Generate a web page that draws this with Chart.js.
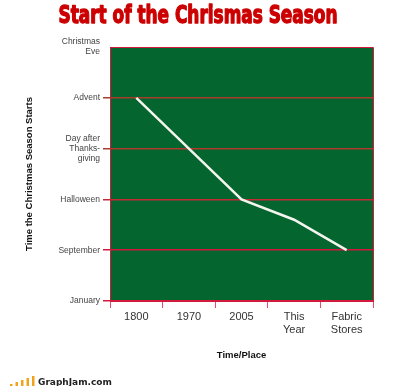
<!DOCTYPE html>
<html>
<head>
<meta charset="utf-8">
<script src="https://cdn.jsdelivr.net/npm/chart.js@4/dist/chart.umd.min.js"></script>
<style>
  html, body { margin: 0; padding: 0; background: #fff; }
  #wrap { width: 400px; height: 386px; }
</style>
</head>
<body>
<div id="wrap"><canvas id="myChart" width="400" height="386"></canvas></div>
<script>
// Dados do gráfico
const categories = ['1800', '1970', '2005', ['This', 'Year'], ['Fabric', 'Stores']];
const seasonStart = [4, 3, 2, 1.6, 1];
const yTickLabels = ['January', 'September', 'Halloween', ['Day after', 'Thanks-', 'giving'], 'Advent', ['Christmas', 'Eve']];

const chartTitle = 'Start of the Chrismas Season';
const yTitle = 'Time the Christmas Season Starts';
const xTitle = 'Time/Place';

// cores
const green = '#04652f';
const red = '#d11a3c';
const gridColors = ['#d11a3c', '#d4173d', '#c42a36', '#ad3b2e', '#a53f2c', 'rgba(0,0,0,0)'];

// fundo verde + borda vermelha + título + logo
const plotArea = {
    id: 'plotArea',
    beforeDraw(chart) {
        const { ctx, chartArea: a } = chart;
        ctx.save();
        ctx.fillStyle = green;
        ctx.fillRect(a.left, a.top, a.right - a.left, a.bottom - a.top);
        ctx.restore();
    },
    afterDraw(chart) {
        const { ctx, chartArea: a } = chart;
        ctx.save();
        ctx.strokeStyle = red;
        ctx.lineWidth = 1;
        ctx.beginPath();
        ctx.moveTo(a.left, a.top + 0.5);
        ctx.lineTo(a.right + 0.5, a.top + 0.5);
        ctx.lineTo(a.right + 0.5, a.bottom);
        ctx.stroke();

        // título condensado (negrito pesado)
        ctx.font = 'bold 24px "Liberation Sans Narrow", "DejaVu Sans Condensed", sans-serif';
        ctx.fillStyle = '#cc0000';
        ctx.strokeStyle = '#cc0000';
        ctx.lineWidth = 1.3;
        ctx.lineJoin = 'round';
        ctx.textAlign = 'center';
        ctx.textBaseline = 'middle';
        const w = ctx.measureText(chartTitle).width;
        const sx = 279 / w;
        ctx.translate(198, 16.5);
        ctx.scale(sx, 1);
        ctx.fillText(chartTitle, 0, 0);
        ctx.strokeText(chartTitle, 0, 0);
        ctx.restore();

        // logo GraphJam
        ctx.save();
        ctx.fillStyle = '#f2a31b';
        const bars = [2, 4, 6, 8, 10];
        bars.forEach((h, i) => {
            ctx.fillRect(10 + i * 5.5, 386 - h, 2.5, h);
        });
        ctx.fillStyle = '#222';
        ctx.font = 'bold 9px "DejaVu Sans", sans-serif';
        ctx.textAlign = 'left';
        ctx.textBaseline = 'alphabetic';
        ctx.fillText('GraphJam.com', 38, 385);
        ctx.restore();
    }
};

const data = {
    labels: categories,
    datasets: [{
        data: seasonStart,
        borderColor: '#f5f5ef',
        borderWidth: 2.5,
        pointRadius: 0,
        tension: 0,
        fill: false
    }]
};

const options = {
    responsive: false,
    animation: false,
    layout: { padding: { top: 47, right: 27, left: 0, bottom: 0 } },
    plugins: {
        legend: { display: false },
        title: { display: false },
        tooltip: { enabled: false }
    },
    scales: {
        x: {
            type: 'category',
            offset: true,
            grid: {
                offset: true,
                drawOnChartArea: false,
                drawTicks: true,
                tickLength: 7,
                color: '#e0506a'
            },
            border: { color: red, width: 1 },
            ticks: {
                color: '#333',
                padding: 2,
                maxRotation: 0,
                font: { family: '"Liberation Sans", Arial, sans-serif', size: 11, lineHeight: 1.2 }
            },
            title: {
                display: true,
                text: xTitle,
                color: '#111',
                font: { family: '"Liberation Sans", Arial, sans-serif', size: 9.5, weight: 'bold' },
                padding: { top: 0, bottom: 25 }
            },
            afterFit(scale) { scale.height = 85; }
        },
        y: {
            min: 0,
            max: 5,
            grid: {
                drawTicks: true,
                tickLength: 7,
                lineWidth: 1.5,
                color: (c) => gridColors[c.index] || red
            },
            border: { color: red, width: 1 },
            ticks: {
                stepSize: 1,
                color: '#444',
                padding: 3,
                font: { family: '"Liberation Sans", Arial, sans-serif', size: 8.5, lineHeight: 1.2 },
                callback: (v) => yTickLabels[v]
            },
            title: {
                display: true,
                text: yTitle,
                color: '#111',
                font: { family: '"Liberation Sans", Arial, sans-serif', size: 9.5, weight: 'bold' },
                padding: { top: 24, bottom: 0 }
            },
            afterFit(scale) { scale.width = 110; }
        }
    }
};

const ctx = document.getElementById('myChart').getContext('2d');
const myChart = new Chart(ctx, {
    type: 'line',
    data: data,
    options: options,
    plugins: [plotArea]
});
</script>
</body>
</html>
